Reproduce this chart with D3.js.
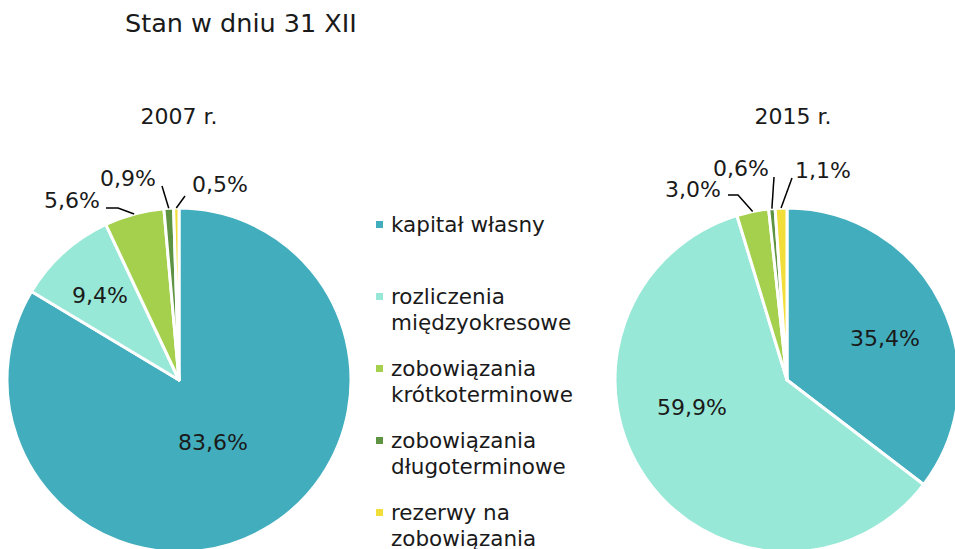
<!DOCTYPE html>
<html>
<head>
<meta charset="utf-8">
<script src="https://cdn.jsdelivr.net/npm/d3@7"></script>
<style>
  body { margin: 0; background: #fff; }
  svg text { font-family: "DejaVu Sans", Verdana, sans-serif; fill: #1a1a1a; }
</style>
</head>
<body>
<svg id="chart" width="955" height="549"></svg>
<script>
// categories and values (percent of total, as of 31 XII)
const categories = [
    'kapitał własny',
    'rozliczenia międzyokresowe',
    'zobowiązania krótkoterminowe',
    'zobowiązania długoterminowe',
    'rezerwy na zobowiązania'
];
const values2007 = [83.6, 9.4, 5.6, 0.9, 0.5];
const values2015 = [35.4, 59.9, 3.0, 0.6, 1.1];
const colors = ['#42adbd', '#98e8d7', '#a4d04e', '#5e9441', '#f2de3a'];

// legend lines (wrapped like the original)
const legendLines = [
    ['kapitał własny'],
    ['rozliczenia', 'międzyokresowe'],
    ['zobowiązania', 'krótkoterminowe'],
    ['zobowiązania', 'długoterminowe'],
    ['rezerwy na', 'zobowiązania']
];

// label placement, relative to pie centre (text x/baseline, optional leader line points)
const labels2007 = [
    { dx: 34, dy: 70 },
    { dx: -79, dy: -77 },
    { dx: -107, dy: -172, line: [[-61, -172], [-73, -172]] },
    { dx: -51, dy: -194, line: [[-17, -194]] },
    { dx: 41, dy: -188, line: [[6, -184]] }
];
const labels2015 = [
    { dx: 98, dy: -34 },
    { dx: -95, dy: 35 },
    { dx: -94, dy: -183, line: [[-49, -185], [-59, -185]] },
    { dx: -46, dy: -204, line: [[-13, -203]] },
    { dx: 36, dy: -202, line: [[5, -202]] }
];

const svg = d3.select('#chart');
const fontSize = 22;
const radius = 172;

svg.append('text')
    .attr('x', 125)
    .attr('y', 32)
    .attr('font-size', 25.5)
    .text('Stan w dniu 31 XII');

const fmt = v => d3.format('.1f')(v).replace('.', ',') + '%';

function drawPie(values, labelPos, cx, cy, title, titleX) {
    const g = svg.append('g').attr('transform', `translate(${cx},${cy})`);

    const pie = d3.pie().sort(null).value(d => d);
    const arc = d3.arc().innerRadius(0).outerRadius(radius);
    const arcs = pie(values);

    g.selectAll('path')
        .data(arcs)
        .enter().append('path')
        .attr('d', arc)
        .attr('fill', (d, i) => colors[i])
        .attr('stroke', '#fff')
        .attr('stroke-width', 3)
        .attr('stroke-linejoin', 'round');

    // leader lines start on the edge of the slice
    arcs.forEach((d, i) => {
        const lp = labelPos[i];
        if (!lp.line) return;
        const a = (d.startAngle + d.endAngle) / 2;
        const start = [Math.sin(a) * radius, -Math.cos(a) * radius];
        g.append('path')
            .attr('d', d3.line()([start, ...lp.line]))
            .attr('fill', 'none')
            .attr('stroke', '#000')
            .attr('stroke-width', 1.5);
    });

    g.selectAll('text.val')
        .data(arcs)
        .enter().append('text')
        .attr('class', 'val')
        .attr('x', (d, i) => labelPos[i].dx)
        .attr('y', (d, i) => labelPos[i].dy)
        .attr('text-anchor', 'middle')
        .attr('font-size', fontSize)
        .text(d => fmt(d.data));

    svg.append('text')
        .attr('x', titleX)
        .attr('y', 124)
        .attr('text-anchor', 'middle')
        .attr('font-size', fontSize)
        .text(title);
}

drawPie(values2007, labels2007, 179, 380, '2007 r.', 179);
drawPie(values2015, labels2015, 787, 380, '2015 r.', 793);

// legend
const legendY = d3.scalePoint()
    .domain(categories)
    .range([232, 520]);

const legend = svg.append('g');
categories.forEach((c, i) => {
    const y = legendY(c);
    legend.append('rect')
        .attr('x', 376)
        .attr('y', y - 11)
        .attr('width', 7)
        .attr('height', 7)
        .attr('fill', colors[i]);
    const t = legend.append('text')
        .attr('x', 391)
        .attr('y', y)
        .attr('font-size', 21.5);
    legendLines[i].forEach((line, j) => {
        t.append('tspan')
            .attr('x', 391)
            .attr('dy', j === 0 ? 0 : 26)
            .text(line);
    });
});
</script>
</body>
</html>
